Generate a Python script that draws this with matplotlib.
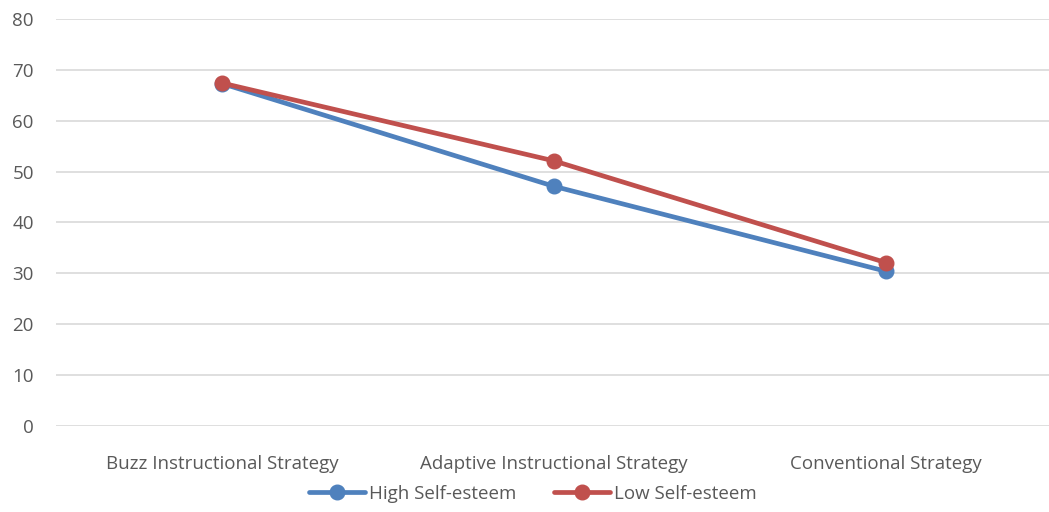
import matplotlib.pyplot as plt
import numpy as np

# Scores by instructional strategy
strategies = ["Buzz Instructional Strategy", "Adaptive Instructional Strategy", "Conventional Strategy"]
high_self_esteem = [67.3, 47.1, 30.4]
low_self_esteem = [67.4, 52.1, 32.1]
y_ticks = [0, 10, 20, 30, 40, 50, 60, 70, 80]

plt.rcParams['font.family'] = ['Open Sans', 'DejaVu Sans']
text_col = '#595959'

fig = plt.figure(figsize=(10.49, 5.12), dpi=100)
ax = fig.add_axes([0.0534, 0.168, 0.9495, 0.795])

x = np.arange(len(strategies))
ax.plot(x, high_self_esteem, color='#4F81BD', lw=3.4, marker='o', ms=10.5,
        label='High Self-esteem', solid_capstyle='round', zorder=3)
ax.plot(x, low_self_esteem, color='#C0504D', lw=3.4, marker='o', ms=10.5,
        label='Low Self-esteem', solid_capstyle='round', zorder=4)

ax.set_xlim(-0.5, 2.5)
ax.set_ylim(0, 80)
ax.set_yticks(y_ticks)
ax.set_xticks(x)
ax.set_xticklabels(strategies)
ax.tick_params(axis='both', length=0, labelsize=13.5, colors=text_col)
ax.tick_params(axis='y', pad=16)
ax.tick_params(axis='x', pad=21)
ax.grid(axis='y', color='#D9D9D9', lw=1.2)
ax.set_axisbelow(True)
for s in ax.spines.values():
    s.set_visible(False)

leg = fig.legend(loc='lower center', bbox_to_anchor=(0.508, -0.015), ncol=2, frameon=False,
                 fontsize=13.5, handlelength=3, columnspacing=2.0, handletextpad=0.2)
for t in leg.get_texts():
    t.set_color(text_col)

fig.savefig("out.png", dpi=100)
